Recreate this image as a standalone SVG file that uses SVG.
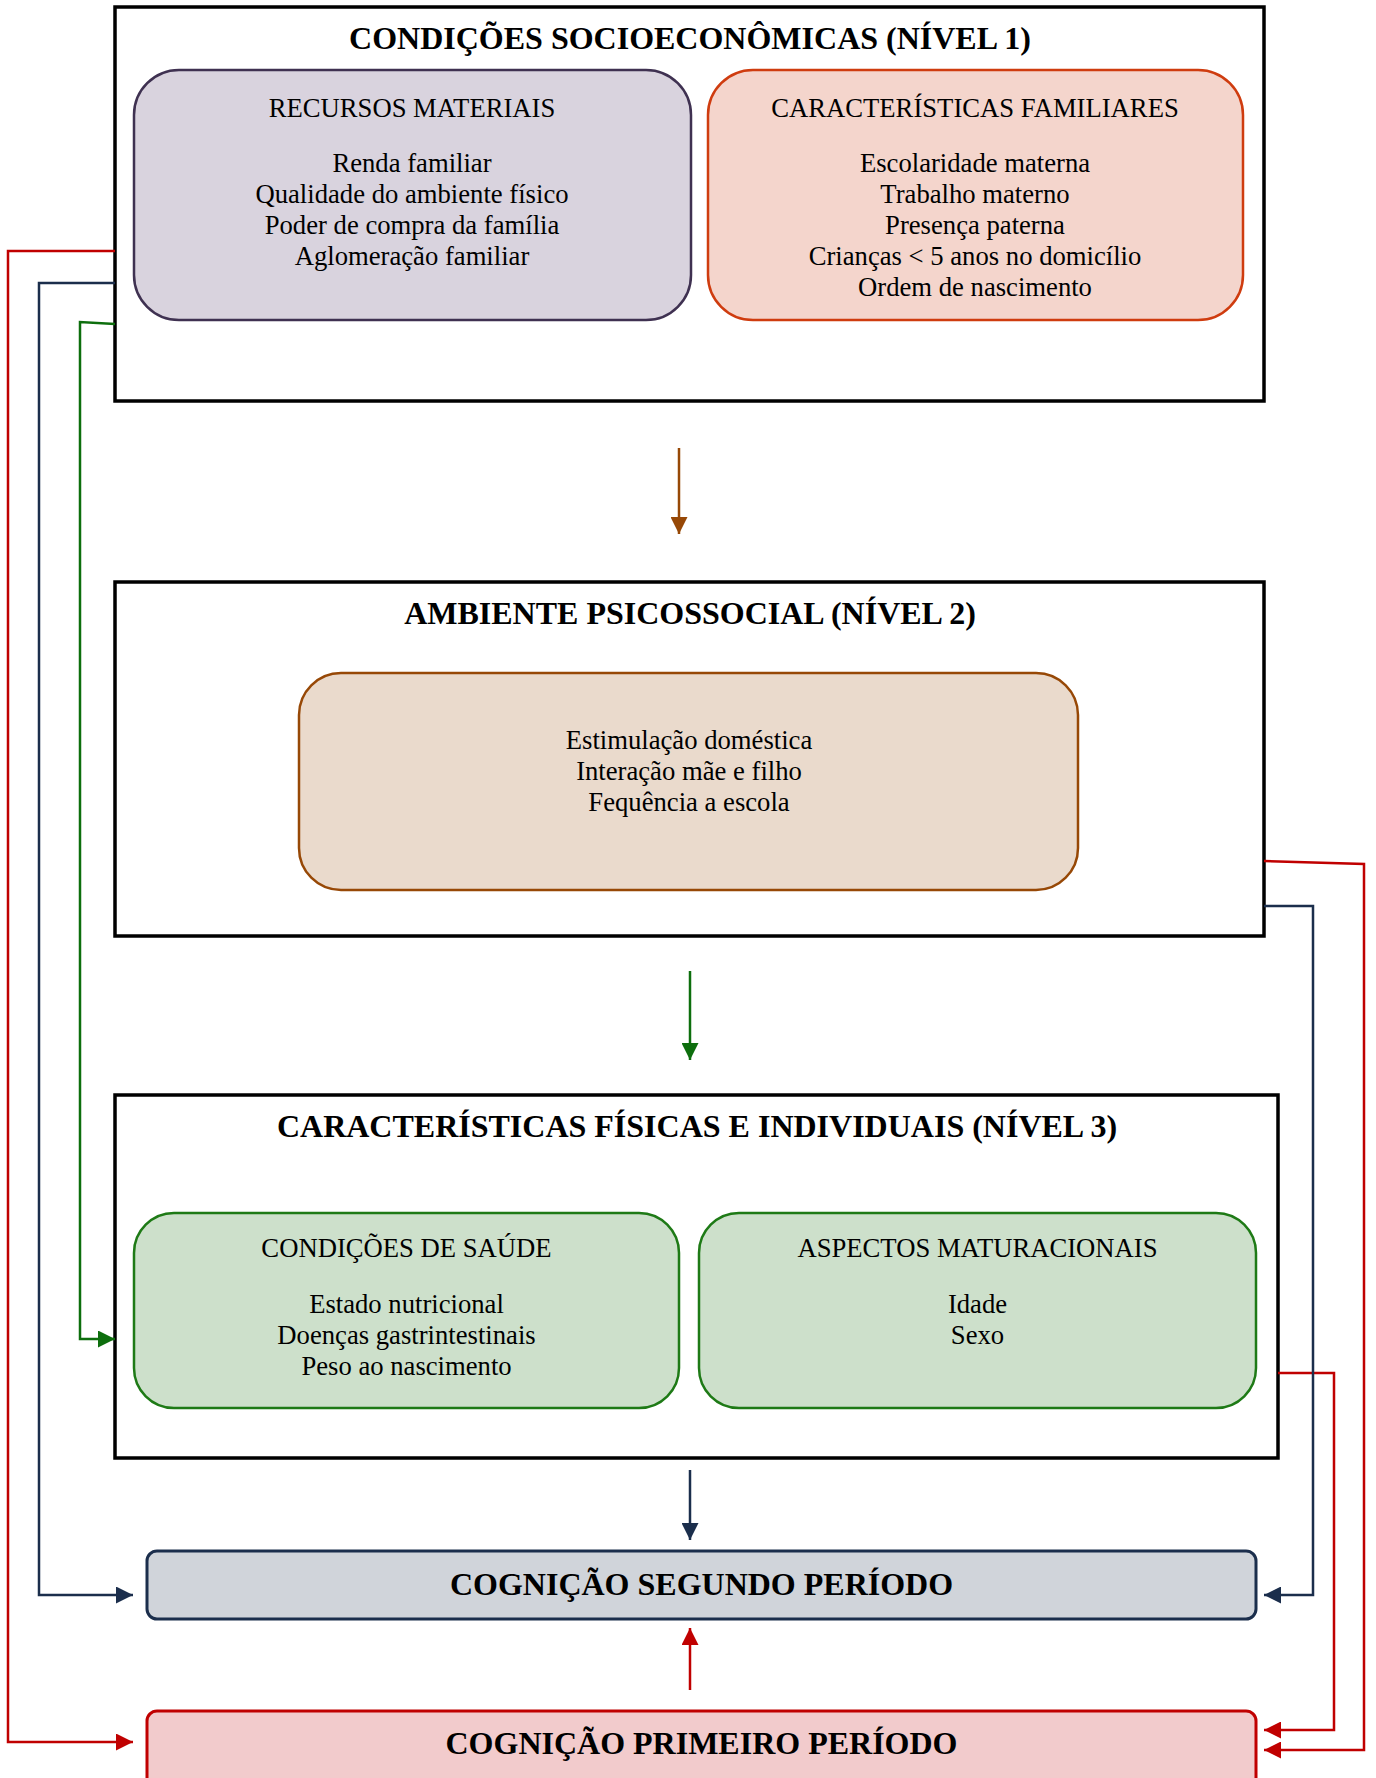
<svg xmlns="http://www.w3.org/2000/svg" width="1376" height="1778" viewBox="0 0 1376 1778">
<style>
  .lvl { fill: #ffffff; stroke: #000000; stroke-width: 3.5; }
  .ttl { font-family: "Liberation Serif", "Times New Roman", serif; font-weight: bold; font-size: 32px; fill: #000; text-anchor: middle; }
  .txt { font-family: "Liberation Serif", "Times New Roman", serif; font-size: 26.67px; fill: #000; text-anchor: middle; }
  .c { fill: none; stroke-width: 2.5; stroke-linejoin: miter; }
  .navy { stroke: #1b2e4c; }
  .red { stroke: #c00000; }
  .green { stroke: #0d6e0d; }
  .brown { stroke: #974806; }
</style>
<defs>
  <marker id="aNavy" markerUnits="userSpaceOnUse" markerWidth="17" markerHeight="17" refX="17" refY="8.5" orient="auto"><path d="M0,0 L17,8.5 L0,17 z" fill="#1b2e4c"/></marker>
  <marker id="aRed" markerUnits="userSpaceOnUse" markerWidth="17" markerHeight="17" refX="17" refY="8.5" orient="auto"><path d="M0,0 L17,8.5 L0,17 z" fill="#c00000"/></marker>
  <marker id="aGreen" markerUnits="userSpaceOnUse" markerWidth="17" markerHeight="17" refX="17" refY="8.5" orient="auto"><path d="M0,0 L17,8.5 L0,17 z" fill="#0d6e0d"/></marker>
  <marker id="aBrown" markerUnits="userSpaceOnUse" markerWidth="17" markerHeight="17" refX="17" refY="8.5" orient="auto"><path d="M0,0 L17,8.5 L0,17 z" fill="#974806"/></marker>
</defs>
<rect width="1376" height="1778" fill="#ffffff"/>

<g id="nivel1">
  <rect class="lvl" x="115" y="7" width="1149" height="394"/>
  <text class="ttl" x="690" y="49">CONDIÇÕES SOCIOECONÔMICAS (NÍVEL 1)</text>
</g>
<g id="recursos-materiais">
  <rect x="134" y="70" width="557" height="250" rx="45" ry="45" fill="#d9d3de" stroke="#3f3151" stroke-width="2.5"/>
  <text class="txt" x="412" y="117">RECURSOS MATERIAIS</text>
  <text class="txt" x="412" y="172">Renda familiar</text>
  <text class="txt" x="412" y="203">Qualidade do ambiente físico</text>
  <text class="txt" x="412" y="234">Poder de compra da família</text>
  <text class="txt" x="412" y="265">Aglomeração familiar</text>
</g>
<g id="caracteristicas-familiares">
  <rect x="708" y="70" width="535" height="250" rx="45" ry="45" fill="#f4d5cc" stroke="#cf3c0f" stroke-width="2.5"/>
  <text class="txt" x="975" y="117">CARACTERÍSTICAS FAMILIARES</text>
  <text class="txt" x="975" y="172">Escolaridade materna</text>
  <text class="txt" x="975" y="203">Trabalho materno</text>
  <text class="txt" x="975" y="234">Presença paterna</text>
  <text class="txt" x="975" y="265">Crianças &lt; 5 anos no domicílio</text>
  <text class="txt" x="975" y="296">Ordem de nascimento</text>
</g>

<g id="nivel2">
  <rect class="lvl" x="115" y="582" width="1149" height="354"/>
  <text class="ttl" x="690" y="624">AMBIENTE PSICOSSOCIAL (NÍVEL 2)</text>
</g>
<g id="ambiente-psicossocial">
  <rect x="299" y="673" width="779" height="217" rx="42" ry="42" fill="#eadacc" stroke="#974806" stroke-width="2.5"/>
  <text class="txt" x="689" y="749">Estimulação doméstica</text>
  <text class="txt" x="689" y="780">Interação mãe e filho</text>
  <text class="txt" x="689" y="811">Fequência a escola</text>
</g>

<g id="nivel3">
  <rect class="lvl" x="115" y="1095" width="1163" height="363"/>
  <text class="ttl" x="697" y="1137">CARACTERÍSTICAS FÍSICAS E INDIVIDUAIS (NÍVEL 3)</text>
</g>
<g id="condicoes-saude">
  <rect x="134" y="1213" width="545" height="195" rx="40" ry="40" fill="#cde0cb" stroke="#1e7a16" stroke-width="2.5"/>
  <text class="txt" x="406.5" y="1257">CONDIÇÕES DE SAÚDE</text>
  <text class="txt" x="406.5" y="1313">Estado nutricional</text>
  <text class="txt" x="406.5" y="1344">Doenças gastrintestinais</text>
  <text class="txt" x="406.5" y="1375">Peso ao nascimento</text>
</g>
<g id="aspectos-maturacionais">
  <rect x="699" y="1213" width="557" height="195" rx="40" ry="40" fill="#cde0cb" stroke="#1e7a16" stroke-width="2.5"/>
  <text class="txt" x="977.5" y="1257">ASPECTOS MATURACIONAIS</text>
  <text class="txt" x="977.5" y="1313">Idade</text>
  <text class="txt" x="977.5" y="1344">Sexo</text>
</g>

<g id="cognicao-segundo">
  <rect x="147" y="1551" width="1109" height="68" rx="10" ry="10" fill="#d0d4da" stroke="#1b2e4c" stroke-width="3"/>
  <text class="ttl" x="701.5" y="1595">COGNIÇÃO SEGUNDO PERÍODO</text>
</g>
<g id="cognicao-primeiro">
  <rect x="147" y="1711" width="1109" height="90" rx="10" ry="10" fill="#f2cbcc" stroke="#c00000" stroke-width="3"/>
  <text class="ttl" x="701.5" y="1754">COGNIÇÃO PRIMEIRO PERÍODO</text>
</g>

<g id="connectors">
  <path class="c brown" d="M679,448 L679,534" marker-end="url(#aBrown)"/>
  <path class="c green" d="M690,971 L690,1060" marker-end="url(#aGreen)"/>
  <path class="c navy" d="M690,1470 L690,1540" marker-end="url(#aNavy)"/>
  <path class="c red" d="M690,1690 L690,1628" marker-end="url(#aRed)"/>
  <path class="c red" d="M115,251 L8,251 L8,1742 L133,1742" marker-end="url(#aRed)"/>
  <path class="c navy" d="M115,283 L39,283 L39,1595 L133,1595" marker-end="url(#aNavy)"/>
  <path class="c green" d="M115,324 L80,322 L80,1339 L115,1339" marker-end="url(#aGreen)"/>
  <path class="c red" d="M1264,861 L1364,864 L1364,1750 L1264,1750" marker-end="url(#aRed)"/>
  <path class="c red" d="M1278,1373 L1334,1373 L1334,1730 L1264,1730" marker-end="url(#aRed)"/>
  <path class="c navy" d="M1264,906 L1313,906 L1313,1595 L1264,1595" marker-end="url(#aNavy)"/>
</g>
</svg>
